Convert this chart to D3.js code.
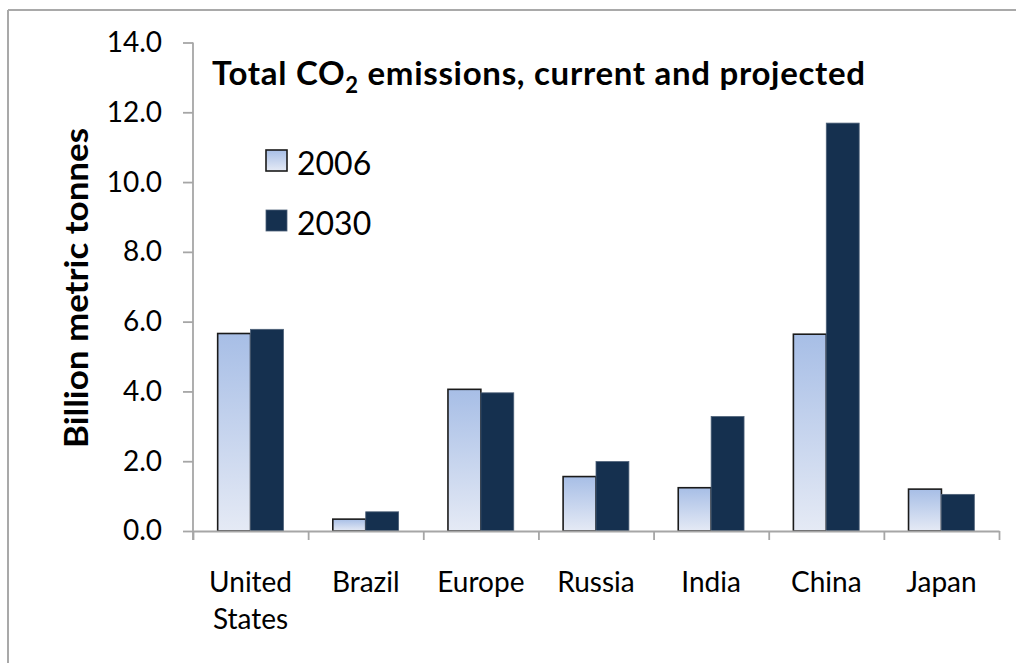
<!DOCTYPE html>
<html>
<head>
<meta charset="utf-8">
<script src="https://cdn.jsdelivr.net/npm/d3@7/dist/d3.min.js"></script>
<style>
  html, body { margin: 0; padding: 0; background: #fff; }
  svg { display: block; }
  text { font-family: Lato, "Open Sans", sans-serif; fill: #000; }
</style>
</head>
<body>
<svg id="chart" width="1016" height="663"></svg>
<script>
const categories = ["United States", "Brazil", "Europe", "Russia", "India", "China", "Japan"];
const seriesNames = ["2006", "2030"];
const values2006 = [5.66, 0.34, 4.06, 1.56, 1.24, 5.64, 1.20];
const values2030 = [5.78, 0.55, 3.96, 1.99, 3.28, 11.69, 1.05];
const yTicks = [0, 2, 4, 6, 8, 10, 12, 14];

const svg = d3.select("#chart");
const W = 1016, H = 663;

// frame
svg.append("line").attr("x1", 8).attr("y1", 10).attr("x2", W).attr("y2", 10)
  .attr("stroke", "#a9a9a9").attr("stroke-width", 2);
svg.append("line").attr("x1", 8).attr("y1", 10).attr("x2", 8).attr("y2", H)
  .attr("stroke", "#a9a9a9").attr("stroke-width", 2);

const defs = svg.append("defs");
const grad = defs.append("linearGradient").attr("id", "lightGrad")
  .attr("x1", 0).attr("y1", 0).attr("x2", 0).attr("y2", 1);
grad.append("stop").attr("offset", "0%").attr("stop-color", "#a7bee6");
grad.append("stop").attr("offset", "100%").attr("stop-color", "#e5eaf5");

const x0 = d3.scaleBand().domain(categories).range([193, 999])
  .paddingInner(1.5 / 3.5).paddingOuter(0.75 / 3.5);
const x1 = d3.scaleBand().domain(seriesNames).range([0, x0.bandwidth()]);
const y = d3.scaleLinear().domain([0, 14]).range([531, 42.5]);
const xb = d3.scaleLinear().domain([0, categories.length]).range([193, 999]);

const data = categories.map((c, i) => ({ cat: c, vals: [
  { s: "2006", v: values2006[i] }, { s: "2030", v: values2030[i] } ] }));

// bars
const groups = svg.append("g").selectAll("g").data(data).join("g")
  .attr("transform", d => `translate(${x0(d.cat)},0)`);
groups.selectAll("rect").data(d => d.vals).join("rect")
  .attr("x", d => x1(d.s))
  .attr("y", d => y(d.v))
  .attr("width", x1.bandwidth())
  .attr("height", d => y(0) - y(d.v))
  .attr("fill", d => d.s === "2006" ? "url(#lightGrad)" : "#15304f")
  .attr("stroke", d => d.s === "2006" ? "#1a1a1a" : "#4d6078")
  .attr("stroke-width", d => d.s === "2006" ? 1.6 : 0.8);

// y axis
const yAxis = svg.append("g").attr("transform", "translate(193,0)")
  .call(d3.axisLeft(y).tickValues(yTicks).tickFormat(d3.format(".1f"))
    .tickSize(10).tickSizeOuter(0).tickPadding(21));
yAxis.select(".domain").attr("stroke", "#a6a6a6").attr("stroke-width", 1.8)
  .attr("d", `M0,${y(14)}V540`);
yAxis.selectAll(".tick line").attr("stroke", "#a6a6a6").attr("stroke-width", 1.8);
yAxis.selectAll(".tick text").attr("font-size", 28).attr("fill", "#000")
  .attr("font-family", "Lato, sans-serif");

// x axis boundary ticks
const xAxis = svg.append("g").attr("transform", `translate(0,${y(0)})`)
  .call(d3.axisBottom(xb).tickValues(d3.range(categories.length + 1))
    .tickFormat("").tickSize(9).tickSizeOuter(0));
xAxis.select(".domain").attr("stroke", "#a6a6a6").attr("stroke-width", 1.8);
xAxis.selectAll(".tick line").attr("stroke", "#a6a6a6").attr("stroke-width", 1.8);

// category labels
const labels = svg.append("g").selectAll("text").data(categories).join("text")
  .attr("x", d => x0(d) + x0.bandwidth() / 2)
  .attr("y", 592)
  .attr("text-anchor", "middle")
  .attr("font-size", 28);
labels.each(function (d) {
  const words = d.split(" ");
  const t = d3.select(this);
  words.forEach((w, i) => {
    t.append("tspan").attr("x", x0(d) + x0.bandwidth() / 2)
      .attr("dy", i === 0 ? 0 : 37).text(w);
  });
});

// y axis title
svg.append("text")
  .attr("transform", "translate(88,288) rotate(-90)")
  .attr("text-anchor", "middle")
  .attr("font-size", 33).attr("font-weight", "bold")
  .attr("textLength", 320).attr("lengthAdjust", "spacingAndGlyphs")
  .text("Billion metric tonnes");

// title
const title = svg.append("text").attr("x", 212).attr("y", 85)
  .attr("font-size", 33).attr("font-weight", "bold")
  .attr("letter-spacing", 0.7);
title.append("tspan").text("Total CO");
title.append("tspan").attr("font-size", 22).attr("dy", 8).text("2");
title.append("tspan").attr("dy", -8).text(" emissions, current and projected");

// legend
const legendY = [[150, 175], [210, 235]];
seriesNames.forEach((s, i) => {
  svg.append("rect").attr("x", 266).attr("y", legendY[i][0])
    .attr("width", 21).attr("height", 21)
    .attr("fill", s === "2006" ? "url(#lightGrad)" : "#15304f")
    .attr("stroke", s === "2006" ? "#1a1a1a" : "#4d6078")
    .attr("stroke-width", s === "2006" ? 1.6 : 0.8);
  svg.append("text").attr("x", 297).attr("y", legendY[i][1])
    .attr("font-size", 32).text(s);
});
</script>
</body>
</html>
